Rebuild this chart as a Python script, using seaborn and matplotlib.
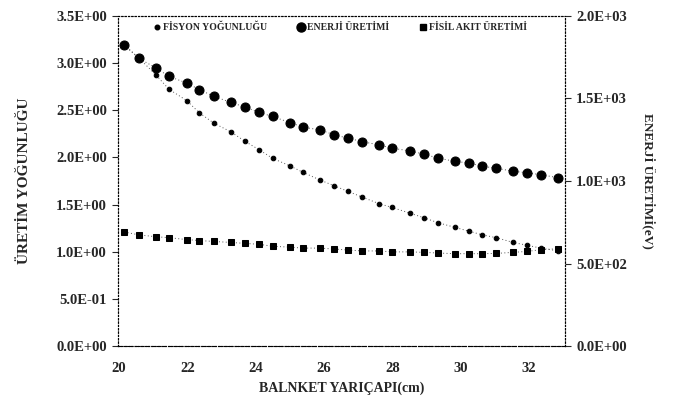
import matplotlib
matplotlib.use('Agg')
import matplotlib.pyplot as plt
from matplotlib.lines import Line2D
from matplotlib.ticker import FuncFormatter
import seaborn as sns

# blanket radius (cm)
yaricap = [20.15, 20.58, 21.08, 21.46, 21.98, 22.35, 22.78, 23.27, 23.68, 24.10,
           24.49, 25.00, 25.39, 25.88, 26.29, 26.70, 27.11, 27.61, 27.99, 28.51,
           28.93, 29.32, 29.82, 30.23, 30.63, 31.04, 31.53, 31.94, 32.34, 32.85]

# fission density (left axis)
fisyon = [3.19, 3.05, 2.87, 2.72, 2.60, 2.47, 2.36, 2.27, 2.17, 2.08,
          1.99, 1.91, 1.84, 1.76, 1.70, 1.64, 1.58, 1.51, 1.47, 1.41,
          1.36, 1.31, 1.26, 1.22, 1.18, 1.15, 1.10, 1.07, 1.04, 1.01]

# fissile fuel production (left axis)
fisil = [1.21, 1.18, 1.16, 1.15, 1.13, 1.12, 1.11, 1.10, 1.09, 1.08,
         1.06, 1.05, 1.04, 1.04, 1.03, 1.02, 1.01, 1.01, 1.00, 1.00,
         0.995, 0.988, 0.981, 0.981, 0.981, 0.984, 0.995, 1.005, 1.023, 1.034]

# energy production (right axis, eV)
enerji = [1820, 1741, 1683, 1632, 1592, 1552, 1511, 1475, 1447, 1414,
          1390, 1353, 1325, 1309, 1279, 1259, 1238, 1218, 1198, 1182,
          1162, 1139, 1119, 1109, 1089, 1077, 1059, 1050, 1038, 1020]

sns.set_style('white')
plt.rcParams['font.family'] = ['Liberation Serif', 'DejaVu Serif']
plt.rcParams['font.weight'] = 'bold'

fig = plt.figure(figsize=(6.75, 4.09), dpi=100)
ax = fig.add_axes([0.175, 0.153, 0.662, 0.809])
ax2 = ax.twinx()

ls = (0, (1, 2.5))
sns.lineplot(x=yaricap, y=fisyon, ax=ax, color='#555555', linestyle=ls, linewidth=0.7,
             marker='o', markersize=3.3, markerfacecolor='black', markeredgecolor='black')
sns.lineplot(x=yaricap, y=fisil, ax=ax, color='#555555', linestyle=ls, linewidth=0.7,
             marker='s', markersize=4.8, markerfacecolor='black', markeredgecolor='black')
sns.lineplot(x=yaricap, y=enerji, ax=ax2, color='#555555', linestyle=ls, linewidth=0.7,
             marker='o', markersize=6.5, markerfacecolor='black', markeredgecolor='black')

ax.set_xlim(19.97, 33.05)
ax.set_ylim(0, 3.5)
ax2.set_ylim(0, 2000)
ax.set_xticks([20, 22, 24, 26, 28, 30, 32])
ax.set_yticks([0, 0.5, 1.0, 1.5, 2.0, 2.5, 3.0, 3.5])
ax2.set_yticks([0, 500, 1000, 1500, 2000])
fmt = FuncFormatter(lambda v, p: f'{v:.1E}')
ax.yaxis.set_major_formatter(fmt)
ax2.yaxis.set_major_formatter(fmt)

for a in (ax, ax2):
    a.tick_params(axis='y', direction='out', length=4, width=0.8, labelsize=10.5, pad=4)
    for s in a.spines.values():
        s.set_linestyle((0, (1, 2)))
        s.set_linewidth(0.8)
        s.set_color('black')
ax.tick_params(axis='x', direction='in', length=3, width=0.8, labelsize=10.5, pad=11)
ax.spines['bottom'].set_linestyle((0, (3, 2)))

ax.set_xlabel('BALNKET YARIÇAPI(cm)', fontsize=10, fontweight='bold', labelpad=5)
ax.set_ylabel('ÜRETİM YOĞUNLUĞU', fontsize=11, fontweight='bold', labelpad=18)
ax2.set_ylabel('ENERJİ ÜRETİMİ(eV)', fontsize=9.5, fontweight='bold', rotation=-90, labelpad=20)

handles = [
    Line2D([], [], linestyle='none', marker='o', markersize=3.3, color='black'),
    Line2D([], [], linestyle='none', marker='o', markersize=6.5, color='black'),
    Line2D([], [], linestyle='none', marker='s', markersize=4.8, color='black'),
]
labels = ['FİSYON YOĞUNLUĞU', 'ENERJİ ÜRETİMİ', 'FİSİL AKIT ÜRETİMİ']
ax.legend(handles, labels, loc='upper center', bbox_to_anchor=(0.495, 1.005), ncol=3,
          frameon=False, prop={'family': 'Liberation Serif', 'weight': 'bold', 'size': 7},
          handletextpad=0.1, columnspacing=3.0, handlelength=1.0)

fig.savefig('out.png', dpi=100)
